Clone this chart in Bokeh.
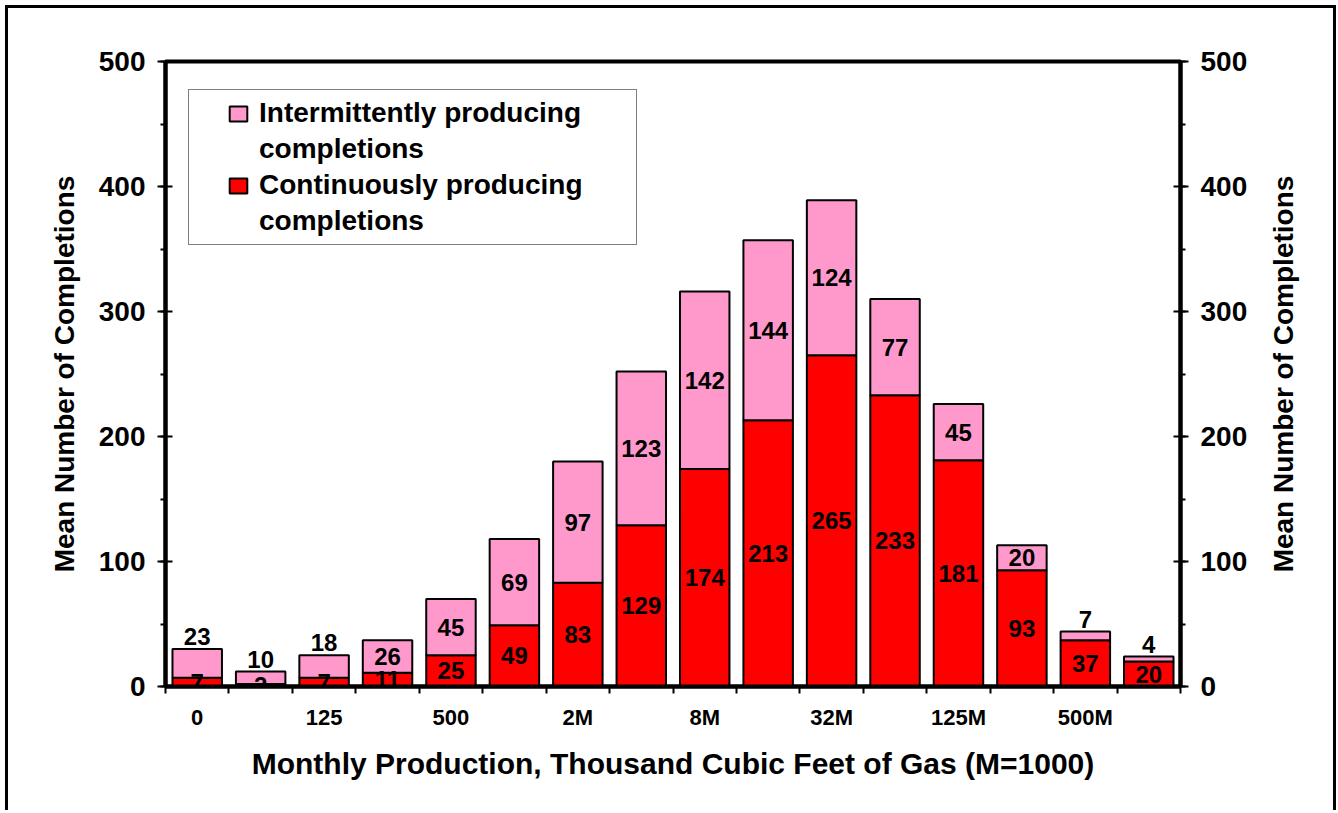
import math
from bokeh.plotting import figure
from bokeh.layouts import row
from bokeh.models import (ColumnDataSource, LinearAxis, Range1d, FixedTicker,
                          SingleIntervalTicker, Legend, LegendItem, Label)
from bokeh.core.properties import value
from bokeh.embed import file_html
from bokeh.resources import INLINE

# ---- data ----
bins = ["0", "62", "125", "250", "500", "1M", "2M", "4M", "8M", "16M",
        "32M", "64M", "125M", "250M", "500M", "1000M"]
shown_tick_labels = ["0", "125", "500", "2M", "8M", "32M", "125M", "500M"]
continuous = [7, 2, 7, 11, 25, 49, 83, 129, 174, 213, 265, 233, 181, 93, 37, 20]
intermittent = [23, 10, 18, 26, 45, 69, 97, 123, 142, 144, 124, 77, 45, 20, 7, 4]
y_title = "Mean Number of Completions"

FONT = value("Liberation Sans")
PINK = "#FF99CC"
RED = "#FF0000"

idx = list(range(len(bins)))
totals = [c + i for c, i in zip(continuous, intermittent)]

# label positions derived from the data
red_label_y = [c / 2 for c in continuous]
pink_label_y = []
for c, i, t in zip(continuous, intermittent, totals):
    if i < 25 and t < 60:
        pink_label_y.append(t + 10)       # small segment: label sits above the bar
    else:
        pink_label_y.append(c + i / 2)

src = ColumnDataSource(dict(
    x=idx, cont=continuous, inter=intermittent, total=totals,
    cont_txt=[str(v) for v in continuous], inter_txt=[str(v) for v in intermittent],
    red_y=red_label_y, pink_y=pink_label_y,
))

W_TOTAL, H = 1325, 802
W1 = 1254
W2 = W_TOTAL - W1
MB_L, MB_R, MB_T, MB_B = 157, 82, 53, 124

yr = Range1d(0, 500)
p = figure(width=W1, height=H, output_backend="svg", toolbar_location=None,
           x_range=Range1d(-0.5, 15.5), y_range=yr,
           min_border_left=MB_L, min_border_right=MB_R,
           min_border_top=MB_T, min_border_bottom=MB_B,
           background_fill_color="white", border_fill_color="white")

p.xgrid.visible = False
p.ygrid.visible = False
p.outline_line_color = "black"
p.outline_line_width = 4

BW = 0.78
red_r = p.vbar(x="x", bottom=0, top="cont", width=BW, source=src,
               fill_color=RED, line_color="black", line_width=2)
pink_r = p.vbar(x="x", bottom="cont", top="total", width=BW, source=src,
                fill_color=PINK, line_color="black", line_width=2)
# invisible renderer used only for the legend's continuation lines
blank_r = p.scatter(x=[], y=[], size=1, fill_alpha=0, line_alpha=0)

p.text(x="x", y="red_y", text="cont_txt", source=src, text_align="center",
       text_baseline="middle", text_font=FONT, text_font_style="bold",
       text_font_size="24px", text_color="black")
p.text(x="x", y="pink_y", text="inter_txt", source=src, text_align="center",
       text_baseline="middle", text_font=FONT, text_font_style="bold",
       text_font_size="24px", text_color="black")

# ---- axes ----
def style_y(ax):
    ax.ticker = SingleIntervalTicker(interval=100, num_minor_ticks=2)
    ax.axis_line_width = 4
    ax.axis_line_color = "black"
    ax.major_tick_line_width = 2
    ax.major_tick_in = 7
    ax.major_tick_out = 8
    ax.minor_tick_line_width = 2
    ax.minor_tick_in = 0
    ax.minor_tick_out = 5
    ax.major_label_text_font = "Liberation Sans"
    ax.major_label_text_font_style = "bold"
    ax.major_label_text_font_size = "28px"
    ax.major_label_text_color = "black"
    ax.major_label_standoff = 12

style_y(p.yaxis[0])
ya = p.yaxis[0]
ya.axis_label = y_title
ya.axis_label_text_font = "Liberation Sans"
ya.axis_label_text_font_style = "bold"
ya.axis_label_text_font_size = "28px"
ya.axis_label_text_color = "black"
ya.axis_label_standoff = 16

right_ax = LinearAxis()
p.add_layout(right_ax, "right")
style_y(right_ax)

xa = p.xaxis[0]
xa.ticker = FixedTicker(ticks=idx[::2], minor_ticks=[i - 0.5 for i in idx] + [idx[-1] + 0.5])
xa.major_label_overrides = {t: lab for t, lab in zip(idx[::2], shown_tick_labels)}
xa.axis_line_width = 4
xa.axis_line_color = "black"
xa.major_tick_line_color = None
xa.major_tick_in = 0
xa.major_tick_out = 0
xa.minor_tick_line_width = 2
xa.minor_tick_in = 0
xa.minor_tick_out = 7
xa.major_label_text_font = "Liberation Sans"
xa.major_label_text_font_style = "bold"
xa.major_label_text_font_size = "22px"
xa.major_label_text_color = "black"
xa.major_label_standoff = 11
xa.axis_label = "Monthly Production, Thousand Cubic Feet of Gas (M=1000)"
xa.axis_label_text_font = "Liberation Sans"
xa.axis_label_text_font_style = "bold"
xa.axis_label_text_font_size = "30px"
xa.axis_label_text_color = "black"
xa.axis_label_standoff = 14

# ---- legend ----
legend = Legend(items=[
    LegendItem(label="Intermittently producing", renderers=[pink_r]),
    LegendItem(label="completions", renderers=[blank_r]),
    LegendItem(label="Continuously producing", renderers=[red_r]),
    LegendItem(label="completions", renderers=[blank_r]),
], location=(23, 441))
legend.title = " "
legend.title_location = "left"
legend.title_text_font_size = "1px"
legend.title_standoff = 30
legend.border_line_color = "black"
legend.border_line_width = 1.5
legend.background_fill_color = "white"
legend.background_fill_alpha = 1
legend.label_text_font = "Liberation Sans"
legend.label_text_font_style = "bold"
legend.label_text_font_size = "28px"
legend.label_text_color = "black"
legend.glyph_width = 22
legend.glyph_height = 19
legend.label_standoff = 10
legend.label_width = 370
legend.padding = 7
legend.spacing = 4
legend.margin = 0
p.add_layout(legend, "center")

# ---- narrow strip holding the right-hand title (reads bottom-to-top) ----
p2 = figure(width=W2, height=H, output_backend="svg", toolbar_location=None,
            x_range=Range1d(0, 1), y_range=yr, x_axis_type=None, y_axis_type=None,
            min_border_left=0, min_border_right=0,
            min_border_top=MB_T, min_border_bottom=MB_B,
            background_fill_color="white", border_fill_color="white")
p2.outline_line_color = None
p2.xgrid.visible = False
p2.ygrid.visible = False
right_title = Label(x=21, x_units="screen",
                    y=(yr.start + yr.end) / 2, y_units="data",
                    text=y_title, angle=math.pi / 2,
                    text_align="center", text_baseline="middle",
                    text_font="Liberation Sans", text_font_style="bold",
                    text_font_size="28px", text_color="black")
p2.add_layout(right_title)

layout = row(p, p2)
layout.styles = {"margin-left": "5px", "margin-top": "5px",
                 "border-top": "3px solid black", "border-left": "3px solid black",
                 "border-right": "3px solid black"}

open("out.html", "w").write(file_html(layout, INLINE))
